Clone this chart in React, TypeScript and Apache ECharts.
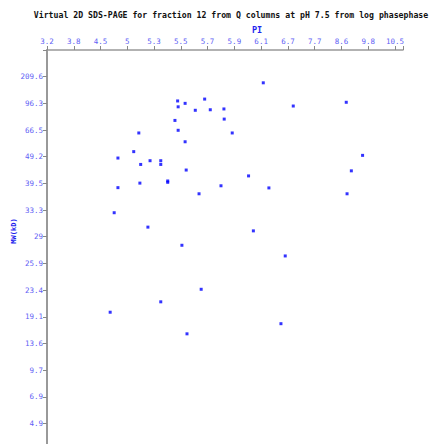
import React, { useEffect, useRef } from "react";
import * as echarts from "echarts";

const titleText = "Virtual 2D SDS-PAGE for fraction 12 from Q columns at pH 7.5 from log phasephase";
const piTickLabels = ["3.2", "3.8", "4.5", "5", "5.3", "5.5", "5.7", "5.9", "6.1", "6.7", "7.7", "8.6", "9.8", "10.5"];
const mwTickLabels = ["", "209.6", "96.3", "66.5", "49.2", "39.5", "33.3", "29", "25.9", "23.4", "19.1", "13.6", "9.7", "6.9", "4.9"];

// spot positions along the (rank-spaced) PI axis and MW axis
const piPos = [
  8.08, 4.88, 5.16, 5.89, 4.90, 5.54, 6.10, 6.61, 4.78, 6.62,
  3.43, 4.90, 6.92, 5.16, 3.24, 2.65, 3.85, 4.25, 3.50, 4.25,
  5.20, 7.53, 4.51, 4.51, 3.47, 2.65, 6.50, 8.29, 5.68, 9.20,
  11.18, 11.79, 11.37, 11.21, 2.51, 3.77, 7.71, 5.04, 8.90, 5.76,
  4.25, 2.36, 8.74, 5.23,
];
const mwPos = [
  1.23, 1.91, 2.00, 1.84, 2.13, 2.26, 2.24, 2.21, 2.64, 2.59,
  3.11, 3.01, 3.11, 3.44, 3.81, 4.05, 4.15, 4.15, 4.29, 4.29,
  4.50, 4.72, 4.91, 4.96, 4.99, 5.16, 5.09, 5.17, 5.39, 2.10,
  1.96, 3.95, 4.53, 5.39, 6.10, 6.64, 6.78, 7.32, 7.72, 8.97,
  9.44, 9.83, 10.26, 10.64,
];

export default function App() {
  const ref = useRef<HTMLDivElement>(null);
  useEffect(() => {
    if (!ref.current) return;
    const chart = echarts.init(ref.current, null, { renderer: "svg" });
    const mono = "DejaVu Sans Mono";
    chart.setOption({
      animation: false,
      backgroundColor: "#ffffff",
      grid: { left: 47, right: 30, top: 50, bottom: 0, containLabel: false },
      graphic: [
        {
          type: "text",
          x: 231,
          y: 15,
          style: {
            text: titleText,
            fontFamily: mono,
            fontWeight: "bold",
            fontSize: 8.2,
            fill: "#111111",
            textAlign: "center",
            textVerticalAlign: "middle",
          },
        },
        {
          type: "text",
          x: 257,
          y: 30,
          style: {
            text: "PI",
            fontFamily: mono,
            fontWeight: "bold",
            fontSize: 8.5,
            fill: "#2222ee",
            textAlign: "center",
            textVerticalAlign: "middle",
          },
        },
        {
          type: "text",
          x: 14,
          y: 231,
          rotation: Math.PI / 2,
          style: {
            text: "MW(kD)",
            fontFamily: mono,
            fontWeight: "bold",
            fontSize: 7,
            fill: "#2222ee",
            textAlign: "center",
            textVerticalAlign: "middle",
          },
        },
      ],
      xAxis: {
        type: "value",
        position: "top",
        min: 0,
        max: 13.3,
        interval: 1,
        splitLine: { show: false },
        axisLine: { show: true, lineStyle: { color: "#999999", width: 1.5 } },
        axisTick: { show: true, length: 4, lineStyle: { color: "#888888", width: 1 } },
        axisLabel: {
          margin: 5,
          fontFamily: mono,
          fontSize: 7.5,
          color: "#5f5ff5",
          formatter: (v: number) => {
            const i = Math.round(v);
            return Math.abs(v - i) < 1e-6 && piTickLabels[i] !== undefined ? piTickLabels[i] : "";
          },
        },
      },
      yAxis: {
        type: "value",
        inverse: true,
        min: 0,
        max: 14.77,
        interval: 1,
        splitLine: { show: false },
        axisLine: { show: true, lineStyle: { color: "#999999", width: 2 } },
        axisTick: { show: true, length: 4, lineStyle: { color: "#888888", width: 1 } },
        axisLabel: {
          margin: 4,
          fontFamily: mono,
          fontSize: 7.5,
          color: "#5f5ff5",
          formatter: (v: number) => {
            const i = Math.round(v);
            return Math.abs(v - i) < 1e-6 && mwTickLabels[i] !== undefined ? mwTickLabels[i] : "";
          },
        },
      },
      series: [
        {
          type: "scatter",
          symbol: "rect",
          symbolSize: 3,
          itemStyle: { color: "#0000ff" },
          data: piPos.map((x, i) => [x, mwPos[i]]),
        },
      ],
    });
    return () => chart.dispose();
  }, []);
  return (
    <div
      ref={ref}
      style={{ position: "absolute", left: 0, top: 0, width: 433, height: 444, background: "#fff" }}
    />
  );
}
